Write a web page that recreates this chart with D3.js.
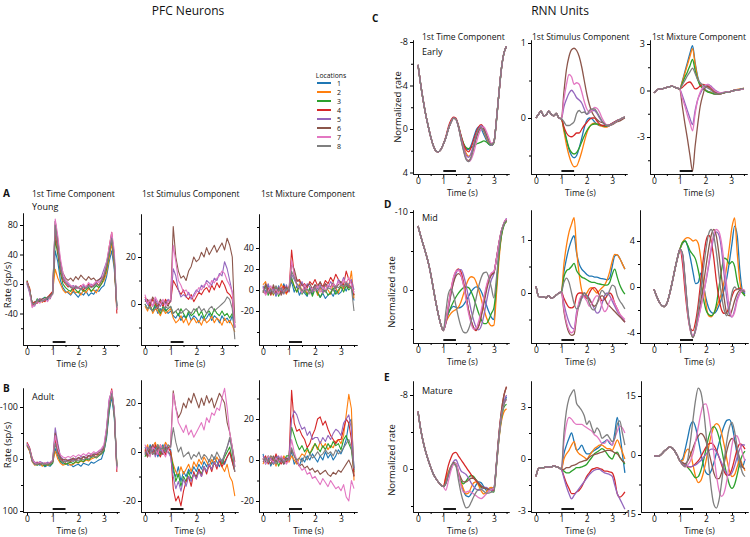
<!DOCTYPE html>
<html><head><meta charset="utf-8">
<script src="https://cdn.jsdelivr.net/npm/d3@7"></script>
<style>
body{margin:0;background:#fff}
svg text{font-family:'Open Sans',sans-serif;fill:#111}
</style>
</head><body>
<svg id="chart" width="750" height="537"></svg>
<script>
// ---------------- DATA ----------------
const timePoints = [0,0.1,0.2,0.3,0.4,0.5,0.6,0.7,0.8,0.9,1.0,1.1,1.2,1.3,1.4,1.5,1.6,1.7,1.8,1.9,2.0,2.1,2.2,2.3,2.4,2.5,2.6,2.7,2.8,2.9,3.0,3.1,3.2,3.3,3.4,3.5];
const locations = ["1","2","3","4","5","6","7","8"];
const locationColors = ["#1f77b4","#ff7f0e","#2ca02c","#d62728","#9467bd","#8c564b","#e377c2","#7f7f7f"];
const componentTitles = ["1st Time Component","1st Stimulus Component","1st Mixture Component"];
const pfcStages = ["Young","Adult"];
const rnnStages = ["Early","Mid","Mature"];
const xTickValues = [0,1,2,3];
const xMinorTicks = [0.5,1.5,2.5,3.5];
const stimulusWindow = [1,1.5];

// PFC, young, rate (sp/s), one row per location
const pfcYoungTime = [
[2,-8,-28,-25,-22,-24,-20,-18,-22,-15,-12,45,30,5,-5,-10,-12,-15,-10,-14,-18,-12,-15,-10,-16,-12,-14,-8,-10,-5,-2,10,30,45,20,-30],
[0,-5,-30,-26,-24,-22,-25,-20,-18,-20,-10,20,8,0,-8,-12,-10,-14,-8,-12,-10,-15,-8,-12,-6,-10,-8,-12,-5,0,5,15,35,55,25,-35],
[5,-10,-25,-28,-20,-24,-22,-18,-20,-16,-14,60,40,15,0,-5,-8,-10,-4,-8,-12,-6,-10,-8,-4,-10,-6,-2,-5,0,8,20,40,60,30,-30],
[4,-6,-27,-24,-26,-20,-22,-24,-18,-14,-10,70,45,20,5,0,-4,-2,-8,-4,-6,-2,-8,-4,0,-4,-2,2,-2,4,10,25,50,70,35,-40],
[0,-12,-28,-30,-22,-20,-24,-20,-18,-20,-12,85,55,25,10,5,0,-5,-2,-6,-4,-8,-2,-6,-3,0,-4,2,5,10,20,30,45,65,40,-30],
[3,-8,-26,-28,-25,-22,-20,-22,-18,-16,-12,85,60,30,15,8,5,8,4,10,6,12,8,5,10,6,8,4,6,8,12,25,45,60,35,-35],
[2,-10,-32,-28,-24,-26,-22,-20,-24,-18,-14,88,65,35,15,5,2,-2,-5,-2,-6,-3,0,-4,2,-2,0,4,2,6,15,30,50,70,45,-35],
[1,-7,-26,-27,-23,-21,-23,-21,-19,-17,-13,80,50,22,8,2,-2,-4,-6,-3,-5,-7,-4,-6,-2,-5,-3,0,-2,4,12,25,42,62,32,-32]];
const pfcYoungStimulus = [
[2,0,-2,-3,-1,-4,-2,-3,-2,-4,-3,-5,-6,-4,-7,-5,-6,-4,-7,-5,-6,-8,-5,-7,-6,-4,-7,-5,-6,-8,-5,-7,-6,-8,-5,-10],
[-1,-3,0,-4,-2,-3,-5,-2,-4,-3,-2,-6,-8,-7,-5,-8,-6,-9,-7,-6,-8,-7,-9,-6,-8,-7,-5,-8,-6,-7,-9,-6,-8,-7,-9,-12],
[0,-2,-1,-3,0,-2,-4,-1,-3,-2,-1,-4,-3,-5,-2,-4,-6,-3,-5,-4,-2,-5,-3,-6,-4,-3,-5,-2,-4,-5,-3,-5,-4,-6,-4,-8],
[3,1,-1,2,0,-2,1,-1,2,0,1,10,8,6,4,6,3,2,4,1,3,5,4,6,7,5,8,6,9,7,10,8,5,4,2,-10],
[2,0,1,-1,2,0,-1,1,0,2,1,15,12,6,3,4,3,5,2,4,6,5,8,7,10,9,8,11,10,13,12,18,15,10,5,-10],
[1,2,0,3,1,-1,2,0,1,-1,2,33,20,14,11,12,10,14,16,20,18,19,22,20,24,21,23,25,22,24,26,23,28,25,20,-8],
[4,0,2,-1,3,1,0,2,-1,1,2,25,18,10,8,5,6,4,3,3,5,7,6,8,9,7,10,9,11,12,14,13,10,8,5,-10],
[0,-2,-1,-3,-2,-1,-3,-2,-1,-2,-1,-4,-3,-2,-4,-3,-2,-3,-4,-2,-3,-1,-3,-2,-4,-2,-1,-3,-2,-1,0,1,3,2,-2,-15]];
const pfcYoungMixture = [
[3,-2,5,-4,2,-6,4,-3,6,-1,2,8,-2,4,-5,0,-3,-6,2,-4,5,-2,-7,-3,-8,-5,-2,-6,0,-4,-2,3,-1,5,2,-10],
[5,8,-3,2,-5,3,-2,6,0,-4,3,10,4,-2,6,-1,3,-4,1,-2,4,-5,2,-3,5,0,-4,6,2,-3,5,1,8,3,18,-8],
[-2,4,-5,1,-4,3,-6,0,-3,2,-1,12,3,-2,4,-4,0,-5,2,-6,1,-3,-7,-2,0,-5,-3,2,-4,0,3,-2,4,0,3,-5],
[0,-4,2,-5,3,-3,1,-2,4,-3,0,38,15,8,10,4,6,2,8,5,10,4,7,3,9,6,12,8,15,10,7,5,18,10,8,-5],
[4,-3,6,-2,1,-5,3,0,-4,5,-2,15,10,5,2,8,0,6,3,-2,4,1,5,-3,6,2,8,4,1,10,5,12,4,6,10,0],
[-3,6,0,-4,5,-2,2,-5,1,3,-1,25,20,10,8,5,2,4,6,1,5,3,8,2,6,4,3,7,2,5,8,3,6,2,4,-2],
[2,-5,-1,4,-3,1,-4,3,-2,0,1,28,15,5,2,-3,5,0,-4,2,-1,4,-2,3,0,5,2,6,3,8,4,10,6,12,5,-3],
[-1,2,-3,0,-2,4,-1,2,-3,1,0,18,12,6,3,0,-2,1,-3,0,2,-1,3,0,-2,2,1,-1,4,2,5,3,7,4,2,-20]];

// PFC, adult
const pfcAdultTime = [
[-28,-20,0,10,8,12,10,15,12,14,8,-20,-5,5,10,8,12,10,15,12,10,14,8,10,12,6,8,5,2,0,-15,-40,-90,-120,-80,15],
[-25,-15,5,12,10,8,14,10,12,10,6,-15,0,8,12,10,8,12,10,6,8,4,6,2,4,0,-2,-5,-8,-10,-20,-50,-100,-125,-90,10],
[-30,-18,2,10,12,9,11,13,10,12,8,-35,-10,5,6,10,8,6,9,5,7,3,5,0,2,-3,-5,-2,-6,-10,-15,-45,-95,-130,-85,12],
[-32,-22,-2,8,6,10,8,10,7,9,5,-40,-15,0,4,6,2,5,0,3,-2,1,-4,-1,-5,-8,-6,-10,-8,-12,-20,-55,-110,-135,-90,25],
[-30,-20,0,6,8,5,7,9,6,8,2,-60,-30,-5,0,4,2,0,3,-2,0,-5,-3,-7,-5,-10,-8,-12,-15,-18,-25,-60,-115,-130,-95,15],
[-27,-17,3,9,11,7,9,8,10,7,4,-50,-25,-2,2,0,4,1,-2,2,-3,0,-5,-2,-7,-4,-10,-8,-12,-15,-22,-50,-105,-128,-92,18],
[-29,-19,1,7,9,6,10,7,9,6,3,-45,-20,-8,-4,-2,-5,-3,-7,-4,-8,-6,-10,-7,-12,-9,-14,-11,-16,-20,-28,-60,-112,-132,-95,20],
[-26,-18,4,11,9,10,8,11,9,10,5,-30,-8,2,6,4,6,3,5,2,4,0,2,-2,0,-4,-6,-3,-8,-12,-18,-48,-100,-126,-88,14]];
const pfcAdultStimulus = [
[2,-1,3,0,2,-2,1,3,0,2,1,-8,-10,-6,-12,-8,-10,-7,-9,-6,-8,-5,-7,-4,-6,-3,-5,-2,-4,-6,-3,-5,-2,0,-4,-8],
[0,3,-1,2,4,0,3,1,4,2,0,-5,-8,-10,-6,-9,-7,-5,-8,-4,-6,-3,-5,-2,-4,-6,-3,-5,-2,-4,-6,-8,-5,-10,-12,-18],
[-2,1,-1,2,0,3,-1,2,1,0,-1,-6,-12,-9,-14,-10,-12,-8,-11,-9,-10,-7,-9,-6,-8,-5,-7,-4,-6,-3,-5,-2,0,2,-3,-6],
[1,-2,2,-1,3,0,-2,1,-1,2,0,-15,-20,-18,-22,-16,-12,-10,-14,-8,-11,-7,-10,-6,-9,-5,-8,-4,-7,-3,-6,-4,-2,0,-4,-8],
[-1,2,0,3,-2,1,2,-1,3,0,-2,-10,-15,-12,-16,-11,-14,-10,-12,-9,-11,-8,-10,-6,-8,-5,-7,-4,-6,-3,-4,-1,2,5,2,-6],
[0,-2,1,3,-1,2,0,-1,2,1,3,25,18,14,16,20,18,22,20,24,21,18,22,19,23,20,22,18,21,24,22,20,12,8,2,-4],
[3,0,-2,2,1,-1,3,0,-2,1,2,24,18,12,10,8,11,7,9,6,8,10,12,9,14,12,16,15,18,17,22,26,18,8,2,-6],
[-1,1,2,-1,0,3,1,2,0,3,2,10,4,0,2,-2,-1,0,-3,-1,-2,0,-3,-1,-2,-4,-1,-3,0,-2,-4,-1,2,6,0,-8]];
const pfcAdultMixture = [
[3,-2,1,-3,0,2,-1,1,-2,0,1,4,-2,0,-3,1,-1,2,0,3,1,-1,2,0,4,1,3,0,2,5,3,6,10,18,20,-5],
[-2,1,-1,2,0,-3,1,-1,2,0,-1,2,0,-2,1,3,2,5,3,6,8,5,9,6,8,5,7,6,9,10,8,12,22,32,25,-10],
[1,-1,2,0,-2,1,-3,0,-1,2,2,16,12,8,5,7,4,6,3,5,8,6,4,7,5,8,6,9,7,8,5,10,12,8,5,-6],
[0,2,-2,1,-1,3,0,-2,1,-1,0,34,18,14,15,12,10,6,8,12,15,20,21,17,19,15,12,10,8,10,10,15,20,18,10,-8],
[2,0,-1,1,-2,0,2,-1,0,1,1,20,24,22,18,15,16,12,14,10,11,11,8,11,9,12,10,13,15,14,12,18,20,22,15,-4],
[-1,1,0,-2,2,-1,1,0,-2,1,0,5,2,-1,-3,-2,-4,-3,-5,-4,-6,-5,-7,-6,-5,-7,-8,-6,-7,-5,-6,-4,-2,0,-3,-8],
[1,-2,2,0,-1,1,-1,2,0,-2,0,10,4,0,-3,-5,-4,-7,-6,-9,-8,-10,-12,-9,-11,-13,-10,-12,-14,-13,-15,-12,-18,-20,-10,-14],
[0,1,-1,2,1,-2,0,1,-1,0,0,6,2,0,1,-1,2,0,3,1,2,4,2,3,5,3,4,2,5,3,4,6,8,10,6,-4]];

// RNN units: shared pre-stimulus trace (t = 0..1.0) + per-location traces (t = 1.1..3.5)
const rnnEarlyTimePre = [-5.9,-4.2,-2.7,-1.4,-0.3,0.7,1.5,2.0,2.1,1.9,1.4];
const rnnEarlyTimePost = [
[0.8,0.0,-0.6,-1.0,-0.9,-0.2,0.7,1.4,1.8,1.9,1.5,0.8,0.1,-0.2,0.0,0.5,1.0,1.4,1.5,1.2,-0.8,-3.3,-5.6,-7.0,-7.6],
[0.8,0.0,-0.6,-1.0,-0.9,-0.2,0.8,1.6,2.2,2.5,2.3,1.6,0.7,0.0,-0.2,0.2,0.8,1.3,1.5,1.2,-0.8,-3.3,-5.6,-7.0,-7.6],
[0.8,0.0,-0.6,-1.0,-0.9,-0.3,0.6,1.3,1.7,1.8,1.7,1.6,1.4,1.3,1.2,1.1,1.2,1.4,1.5,1.3,-0.7,-3.3,-5.6,-7.0,-7.6],
[0.7,-0.2,-0.8,-1.1,-1.0,-0.3,0.6,1.4,1.9,2.1,1.7,1.0,0.3,-0.2,-0.4,-0.1,0.5,1.1,1.4,1.2,-0.8,-3.3,-5.6,-7.0,-7.6],
[0.8,0.0,-0.6,-1.0,-0.9,-0.2,0.8,1.7,2.4,2.6,2.2,1.4,0.6,0.0,-0.3,0.0,0.6,1.2,1.5,1.2,-0.8,-3.3,-5.6,-7.0,-7.6],
[0.8,0.0,-0.6,-1.0,-0.9,-0.2,0.9,1.9,2.7,2.9,2.6,1.8,0.9,0.2,-0.1,0.0,0.5,1.1,1.4,1.2,-0.8,-3.3,-5.6,-7.0,-7.6],
[0.8,0.0,-0.6,-1.0,-0.9,-0.2,0.9,1.9,2.7,3.0,2.8,2.2,1.3,0.5,0.0,-0.2,0.2,0.8,1.3,1.2,-0.8,-3.3,-5.6,-7.0,-7.6],
[0.8,0.0,-0.6,-1.0,-0.9,-0.2,1.0,2.0,2.8,3.0,2.6,1.6,0.6,0.0,-0.1,0.2,0.7,1.2,1.4,1.2,-0.8,-3.3,-5.6,-7.0,-7.6]];
const rnnEarlyStimulusPre = [0.0,0.05,0.09,0.03,0.04,0.09,0.05,0.03,0.06,0.0,-0.01];
const rnnEarlyStimulusPost = [
[-0.15,-0.3,-0.42,-0.5,-0.53,-0.5,-0.4,-0.27,-0.13,-0.03,0.0,-0.01,-0.05,-0.08,-0.1,-0.1,-0.1,-0.1,-0.09,-0.07,-0.05,-0.03,-0.02,0.0,0.01],
[-0.18,-0.36,-0.5,-0.6,-0.65,-0.64,-0.56,-0.45,-0.32,-0.2,-0.12,-0.08,-0.07,-0.08,-0.1,-0.11,-0.12,-0.12,-0.1,-0.08,-0.06,-0.04,-0.02,0.0,0.01],
[-0.14,-0.28,-0.4,-0.46,-0.48,-0.46,-0.4,-0.32,-0.24,-0.17,-0.12,-0.09,-0.08,-0.08,-0.09,-0.1,-0.11,-0.11,-0.1,-0.08,-0.06,-0.04,-0.02,0.0,0.01],
[-0.12,-0.2,-0.24,-0.25,-0.23,-0.2,-0.2,-0.15,-0.1,-0.06,-0.02,0.0,0.0,-0.04,-0.08,-0.1,-0.1,-0.1,-0.09,-0.07,-0.05,-0.03,-0.02,0.0,0.01],
[0.15,0.25,0.33,0.37,0.33,0.27,0.24,0.2,0.12,0.05,0.07,0.1,0.1,0.06,0.0,-0.05,-0.08,-0.1,-0.1,-0.08,-0.06,-0.04,-0.02,0.0,0.01],
[0.35,0.65,0.82,0.91,0.93,0.9,0.82,0.68,0.5,0.32,0.18,0.08,0.02,-0.02,-0.05,-0.06,-0.08,-0.1,-0.1,-0.09,-0.07,-0.05,-0.04,-0.02,0.0],
[0.25,0.45,0.58,0.55,0.45,0.47,0.45,0.35,0.22,0.12,0.08,0.1,0.14,0.13,0.08,0.0,-0.06,-0.1,-0.1,-0.08,-0.06,-0.04,-0.02,0.0,0.01],
[-0.05,-0.1,-0.1,-0.08,-0.05,0.06,0.1,0.07,0.08,0.05,0.1,0.12,0.12,0.08,0.02,-0.04,-0.08,-0.1,-0.1,-0.08,-0.06,-0.04,-0.02,0.0,0.01]];
const rnnEarlyMixturePre = [-0.15,0.0,0.1,0.1,0.15,0.2,0.25,0.28,0.22,0.15,0.1];
const rnnEarlyMixturePost = [
[0.6,1.2,1.8,2.4,2.9,1.8,0.9,0.4,0.2,0.05,-0.05,-0.1,-0.2,-0.25,-0.25,-0.2,-0.15,-0.12,-0.1,-0.05,0.0,0.05,0.05,0.1,0.12],
[0.55,1.1,1.65,2.2,2.7,1.7,0.8,0.35,0.15,0.02,-0.08,-0.12,-0.2,-0.22,-0.22,-0.2,-0.15,-0.12,-0.1,-0.05,0.0,0.05,0.08,0.1,0.15],
[0.45,0.85,1.2,1.6,2.0,1.3,0.7,0.3,0.15,0.0,-0.1,-0.15,-0.2,-0.22,-0.22,-0.2,-0.15,-0.1,-0.08,-0.05,0.0,0.02,0.05,0.08,0.1],
[0.2,0.35,0.5,0.55,0.35,0.1,0.15,0.3,0.4,0.35,0.25,0.1,-0.05,-0.15,-0.2,-0.2,-0.15,-0.1,-0.08,-0.05,0.0,0.02,0.05,0.1,0.12],
[-0.3,-0.8,-1.3,-1.8,-2.2,-1.3,-0.6,-0.2,0.1,0.3,0.4,0.3,0.15,0.0,-0.1,-0.15,-0.12,-0.1,-0.08,-0.05,0.0,0.02,0.05,0.08,0.1],
[-1.0,-2.1,-3.1,-4.2,-5.2,-3.6,-2.2,-1.0,-0.3,0.2,0.3,0.2,0.05,-0.1,-0.2,-0.2,-0.15,-0.1,-0.08,-0.05,0.0,0.02,0.05,0.08,0.1],
[-0.5,-1.0,-1.6,-2.1,-2.6,-1.5,-0.6,-0.1,0.2,0.35,0.4,0.25,0.1,-0.05,-0.12,-0.15,-0.12,-0.1,-0.08,-0.05,0.0,0.02,0.05,0.08,0.1],
[0.35,0.65,0.95,1.2,1.45,1.1,0.7,0.5,0.35,0.25,0.15,0.05,-0.1,-0.2,-0.22,-0.2,-0.15,-0.12,-0.1,-0.05,0.0,0.02,0.05,0.1,0.15]];

const rnnMidTimePre = [-8.2,-7.0,-5.9,-4.8,-3.6,-2.1,-0.3,1.5,3.1,4.4,5.2];
const rnnMidTimePost = [
[4.0,3.0,2.4,2.1,2.2,2.3,2.2,1.9,1.4,0.8,0.2,-0.2,-0.4,-0.3,0.2,1.0,1.9,2.8,3.5,3.8,-0.5,-4.5,-7.2,-8.5,-9.0],
[4.2,3.5,3.0,2.7,2.5,2.2,1.5,0.5,-0.6,-1.4,-1.7,-1.6,-1.0,0.0,1.2,2.4,3.5,4.2,4.6,4.5,0.5,-3.8,-7.0,-8.4,-8.8],
[4.0,3.0,2.2,1.5,0.9,0.4,0.0,-0.3,-0.4,-0.3,0.2,1.0,2.0,3.0,3.8,4.3,4.3,3.8,3.0,2.3,-0.5,-4.5,-7.0,-8.3,-8.8],
[4.0,2.0,0.0,-1.5,-2.4,-2.7,-2.3,-1.0,0.8,2.6,4.0,4.9,5.2,4.6,3.2,1.5,-0.2,-1.4,-2.0,-2.3,-4.0,-6.0,-7.6,-8.6,-9.1],
[4.3,2.5,0.6,-1.0,-2.1,-2.6,-2.6,-1.9,-0.6,1.0,2.6,3.9,4.8,5.1,4.6,3.3,1.6,0.0,-1.3,-2.1,-4.0,-6.0,-7.6,-8.6,-9.2],
[4.2,2.3,0.5,-0.9,-1.8,-2.1,-1.8,-0.7,0.9,2.6,3.9,4.8,5.1,4.6,3.4,1.8,0.2,-1.1,-1.9,-2.2,-4.0,-6.0,-7.6,-8.5,-9.0],
[4.0,2.0,0.0,-1.6,-2.4,-2.5,-1.9,-0.6,1.2,3.0,4.3,5.0,4.9,4.0,2.6,1.0,-0.5,-1.6,-2.2,-2.4,-4.0,-6.0,-7.6,-8.6,-9.1],
[2.8,0.5,-0.1,0.6,2.0,3.5,4.7,5.4,5.5,5.0,4.0,2.6,1.0,-0.5,-1.6,-2.2,-2.3,-1.6,-0.3,1.0,-1.5,-5.0,-7.4,-8.5,-8.9]];
const rnnMidStimulusPre = [0.13,-0.06,-0.08,-0.07,-0.09,-0.05,-0.1,-0.08,-0.04,0.0,0.02];
const rnnMidStimulusPost = [
[0.4,0.65,0.85,1.0,1.08,0.75,0.55,0.45,0.4,0.35,0.32,0.32,0.3,0.3,0.28,0.27,0.26,0.25,0.28,0.5,0.7,0.72,0.65,0.55,0.45],
[0.55,0.9,1.15,1.3,1.42,0.8,0.35,0.05,-0.05,0.0,0.08,0.1,0.05,0.0,0.05,0.1,0.15,0.25,0.4,0.6,0.73,0.72,0.65,0.55,0.45],
[0.3,0.42,0.45,0.5,0.56,0.42,0.35,0.3,0.28,0.25,0.22,0.2,0.2,0.18,0.17,0.16,0.15,0.15,0.2,0.35,0.45,0.3,0.15,0.05,-0.02],
[-0.1,-0.2,-0.27,-0.28,-0.25,-0.05,0.0,0.0,-0.05,-0.1,0.0,0.08,0.1,0.05,-0.05,-0.15,-0.12,-0.05,0.0,-0.05,-0.2,-0.3,-0.4,-0.48,-0.55],
[-0.2,-0.4,-0.55,-0.65,-0.68,-0.35,-0.2,-0.1,-0.05,-0.05,-0.1,-0.2,-0.3,-0.38,-0.35,-0.2,-0.05,0.0,-0.05,-0.15,-0.25,-0.35,-0.42,-0.48,-0.55],
[-0.35,-0.6,-0.75,-0.8,-0.78,-0.45,-0.2,-0.05,0.0,-0.05,-0.12,-0.2,-0.25,-0.2,-0.1,-0.05,-0.1,-0.2,-0.25,-0.3,-0.35,-0.4,-0.45,-0.5,-0.55],
[-0.3,-0.55,-0.7,-0.75,-0.7,-0.4,-0.15,-0.05,-0.08,-0.15,-0.25,-0.2,-0.1,-0.05,-0.1,-0.25,-0.35,-0.3,-0.15,-0.1,-0.2,-0.3,-0.4,-0.45,-0.5],
[0.2,0.28,0.2,0.0,-0.2,-0.3,-0.25,-0.1,0.0,-0.05,-0.2,-0.3,-0.32,-0.2,-0.05,0.05,0.0,-0.05,0.05,0.15,0.12,-0.05,-0.15,-0.22,-0.3]];
const rnnMidMixturePre = [-0.2,-0.8,-1.3,-1.6,-1.7,-1.4,-0.6,0.4,1.5,2.5,3.3];
const rnnMidMixturePost = [
[3.8,4.0,3.5,2.5,1.3,0.3,0.4,1.2,0.2,-1.0,-1.8,-2.2,-2.3,-2.1,-1.6,-1.0,-0.2,0.8,2.2,3.8,5.3,4.5,1.5,-0.3,-0.6],
[3.9,4.2,4.3,4.2,4.0,4.1,3.8,2.5,0.5,-1.5,-2.5,-2.6,-2.3,-1.8,-1.2,-0.5,0.5,1.8,3.5,5.2,6.0,3.0,0.5,-0.5,-0.7],
[3.9,4.0,3.6,3.1,2.8,2.4,1.5,0.3,-1.0,-2.0,-2.4,-2.5,-2.3,-1.5,0.0,1.5,2.5,2.4,2.0,2.2,1.8,0.5,-0.3,-0.5,-0.8],
[2.0,-0.5,-2.5,-3.6,-3.8,-3.0,-1.5,0.5,2.5,4.0,4.5,4.0,2.5,0.5,-1.0,-2.0,-2.3,-2.2,-1.6,-0.8,-0.3,-0.2,-0.1,-0.3,-0.4],
[2.8,0.5,-2.0,-3.6,-4.3,-3.8,-2.8,-1.7,-0.6,0.5,1.8,3.2,4.3,4.8,4.5,3.2,1.0,-1.0,-2.3,-2.6,-2.0,-1.0,-0.5,-0.3,-0.5],
[2.8,0.4,-2.2,-3.8,-4.4,-3.7,-2.5,-1.2,0.2,1.8,3.3,4.5,5.0,4.4,2.8,0.8,-1.0,-2.3,-2.5,-2.0,-1.2,-0.6,-0.3,-0.3,-0.4],
[2.6,0.2,-2.3,-3.8,-4.2,-3.7,-2.8,-1.8,-0.7,0.6,2.0,3.5,4.6,5.0,4.8,3.8,2.0,0.0,-1.8,-2.6,-2.2,-1.2,-0.6,-0.2,-0.3],
[2.9,0.6,-2.0,-3.7,-4.4,-3.6,-2.0,-0.3,1.6,3.3,4.6,5.0,4.4,3.0,1.0,-0.8,-2.0,-2.5,-1.8,-0.5,0.0,-0.2,-0.2,-0.3,-0.4]];

const rnnMatureTimePre = [-6.2,-4.4,-3.0,-1.9,-1.0,-0.2,0.5,1.0,1.4,1.7,1.9];
const rnnMatureTimePost = [
[1.4,0.6,-0.1,-0.6,-0.4,0.6,1.6,2.4,2.9,3.0,2.7,2.2,1.7,1.4,1.5,1.9,2.3,2.4,2.1,2.0,-0.5,-3.5,-5.8,-7.2,-7.8],
[1.0,0.3,-0.3,-0.6,-0.4,0.5,1.4,2.2,2.7,2.6,2.0,1.5,1.4,1.8,2.4,2.7,2.5,2.1,2.0,2.2,-0.3,-3.2,-5.2,-6.2,-6.5],
[1.6,0.7,0.0,-0.5,-0.4,0.5,1.3,1.6,1.3,0.9,0.7,0.8,1.2,1.6,2.0,2.1,2.1,2.2,2.4,2.5,-0.3,-3.3,-5.5,-6.7,-7.0],
[0.8,-0.4,-1.2,-1.7,-1.8,-1.4,-1.0,-0.6,-0.2,0.2,0.6,1.0,1.3,1.6,1.9,2.0,2.1,2.2,2.3,2.3,-0.6,-3.8,-6.3,-8.0,-8.9],
[1.6,0.7,-0.1,-0.8,-1.0,-0.4,0.2,0.4,0.6,1.0,1.5,1.9,2.2,2.3,2.2,2.0,2.0,2.2,2.3,2.2,-0.5,-3.6,-5.9,-7.3,-8.0],
[1.5,0.6,-0.2,-0.7,-0.6,0.3,1.0,1.4,1.4,1.2,1.0,1.0,1.2,1.5,1.8,2.0,2.1,2.2,2.2,2.1,-0.6,-3.8,-6.3,-8.0,-8.9],
[2.3,1.3,0.2,-0.5,-0.6,0.4,1.8,2.5,2.5,2.4,2.5,2.7,2.9,3.1,3.2,3.0,2.7,2.4,2.2,2.1,-0.4,-3.4,-5.8,-7.0,-7.5],
[1.5,0.5,-0.3,-0.6,-0.3,1.2,2.6,3.6,4.2,4.1,3.6,3.0,2.5,2.2,2.2,2.4,2.6,2.6,2.5,2.4,-0.4,-3.4,-5.7,-7.0,-7.6]];
const rnnMatureStimulusPre = [-1.0,-0.55,-0.5,-0.5,-0.45,-0.45,-0.45,-0.4,-0.45,-0.5,-0.6];
const rnnMatureStimulusPost = [
[0.3,0.8,1.2,1.5,1.0,0.5,0.6,0.8,0.5,0.3,0.3,0.4,0.5,0.6,0.7,0.9,1.0,1.1,0.9,0.8,1.5,2.4,1.5,0.3,-0.8],
[0.0,0.3,0.5,0.8,1.0,0.5,0.3,0.2,0.1,0.0,0.2,0.4,0.6,0.7,0.8,0.8,0.7,0.6,0.6,0.5,0.8,1.1,0.8,0.4,0.0],
[-0.7,-0.8,-0.8,-0.7,-0.6,-0.5,-0.5,-0.45,-0.4,-0.3,-0.1,0.1,0.3,0.4,0.5,0.6,0.5,0.3,0.1,0.0,0.3,0.4,0.1,-0.1,-0.3],
[-1.0,-1.4,-1.7,-2.0,-2.0,-1.9,-1.8,-1.6,-1.3,-1.0,-0.8,-0.6,-0.55,-0.5,-0.55,-0.6,-0.7,-0.7,-0.75,-0.8,-1.2,-2.0,-2.2,-2.1,-1.9],
[-1.1,-1.6,-2.0,-2.3,-2.1,-1.9,-1.7,-1.5,-1.3,-1.1,-0.9,-0.75,-0.65,-0.6,-0.6,-0.7,-0.8,-0.85,-0.9,-1.0,-1.5,-2.0,-2.3,-2.6,-2.9],
[-0.6,-0.5,-0.5,-0.4,-0.35,-0.3,-0.2,-0.15,-0.1,-0.05,0.1,0.2,0.25,0.3,0.35,0.4,0.45,0.5,0.5,0.45,0.35,0.3,0.1,-0.1,-0.2],
[1.0,2.0,2.4,2.3,2.1,2.0,2.0,2.0,1.9,1.8,1.7,1.6,1.4,1.3,1.1,0.9,0.9,1.1,1.0,0.8,1.2,1.6,1.9,1.8,1.5],
[1.5,2.8,3.5,3.8,4.0,3.2,3.0,2.8,2.5,2.0,2.2,1.8,1.5,1.8,1.6,1.2,1.3,1.4,1.2,1.0,1.2,2.0,2.2,1.5,0.8]];
const rnnMatureMixturePre = [-0.3,-0.3,-0.2,0.3,1.0,1.6,2.0,1.8,1.0,-0.2,-1.5];
const rnnMatureMixturePost = [
[-1.0,1.5,4.5,7.5,8.5,7.0,4.0,0.5,-2.5,-4.5,-5.0,-4.0,-2.0,0.5,3.0,5.5,7.5,8.8,9.0,7.5,4.0,0.0,-3.0,-3.0,-1.0],
[-1.5,0.5,1.5,0.5,-2.5,-5.5,-7.0,-6.5,-4.5,-1.5,2.0,5.0,7.2,8.0,7.5,5.5,2.5,-1.0,-4.0,-5.5,-5.0,-3.0,-1.0,-2.5,-4.0],
[-2.0,-2.5,-3.2,-4.0,-5.0,-5.8,-5.5,-4.0,-1.5,1.5,4.5,6.5,7.2,6.5,4.5,1.5,-2.0,-5.0,-7.5,-8.5,-7.5,-5.0,-2.0,0.0,1.0],
[-2.5,-2.8,-3.0,-3.0,-2.8,-2.2,-1.5,-0.5,0.8,2.0,2.8,3.0,2.5,1.2,-0.5,-2.5,-4.2,-5.2,-5.0,-3.5,-1.0,1.5,2.8,2.5,1.5],
[-2.0,-2.5,-2.8,-3.0,-2.8,-2.5,-2.0,-1.4,-0.6,0.2,1.0,1.5,1.5,0.8,-0.5,-2.0,-3.5,-4.8,-5.2,-4.5,-2.8,-0.5,1.5,2.6,2.5],
[-2.0,-2.2,-1.5,0.0,1.8,3.5,4.8,5.5,5.0,3.5,1.0,-1.8,-4.5,-6.0,-6.0,-4.5,-2.0,1.0,3.3,4.2,3.5,1.5,-1.0,-3.0,-3.5],
[-2.5,-3.0,-2.5,-1.5,0.5,3.5,7.0,10.5,12.8,13.0,10.5,6.0,0.5,-5.0,-9.0,-10.5,-9.5,-6.5,-2.0,2.5,5.0,4.8,3.0,0.5,-1.5],
[-2.5,-3.0,-1.0,3.5,9.0,14.0,17.0,16.0,12.0,5.5,-2.0,-8.5,-12.5,-13.5,-11.5,-7.0,-1.5,3.5,7.0,8.3,6.0,2.0,-2.0,-4.5,-5.5]];

// ---------------- LAYOUT ----------------
const joinRnn = (pre, post) => post.map(p => pre.concat(p));
const colA = {ax:23, x0:27, pps:25.67, xEnd:119};
const colB = {ax:141, x0:145, pps:25.67, xEnd:238};
const colC = {ax:259, x0:263, pps:26, xEnd:357};
const panels = [
 Object.assign({lines:pfcYoungTime, top:213, bottom:345, v0:0,p0:284, v1:80,p1:225, yTicks:[80,40,0,-40], yMinor:[60,20,-20,-60], rnn:false}, colA),
 Object.assign({lines:pfcYoungStimulus, top:214, bottom:345, v0:0,p0:304, v1:20,p1:257, yTicks:[20,0], yMinor:[30,10,-10], rnn:false}, colB),
 Object.assign({lines:pfcYoungMixture, top:214, bottom:345, v0:0,p0:290, v1:40,p1:248, yTicks:[40,20,0,-20], yMinor:[60,-40], rnn:false}, colC),
 Object.assign({lines:pfcAdultTime, top:388, bottom:512, v0:0,p0:459, v1:-100,p1:407, yTicks:[-100,0,100], yMinor:[-50,50], rnn:false}, colA),
 Object.assign({lines:pfcAdultStimulus, top:380, bottom:512, v0:0,p0:452, v1:20,p1:403, yTicks:[20,0,-20], yMinor:[10,-10], rnn:false}, colB),
 Object.assign({lines:pfcAdultMixture, top:380, bottom:512, v0:0,p0:460, v1:20,p1:419, yTicks:[20,0,-20], yMinor:[30,10,-10], rnn:false}, colC),
 {lines:joinRnn(rnnEarlyTimePre,rnnEarlyTimePost), ax:413,x0:418,pps:25.3,xEnd:509, top:40,bottom:174, v0:0,p0:129,v1:-8,p1:42, yTicks:[-8,-4,0,4], yMinor:[-6,-2,2], rnn:true},
 {lines:joinRnn(rnnEarlyStimulusPre,rnnEarlyStimulusPost), ax:531,x0:536,pps:25.4,xEnd:627, top:40,bottom:174, v0:0,p0:118,v1:1,p1:43, yTicks:[1,0], yMinor:[0.5,-0.5], rnn:true},
 {lines:joinRnn(rnnEarlyMixturePre,rnnEarlyMixturePost), ax:650,x0:654,pps:25.7,xEnd:747, top:40,bottom:174, v0:0,p0:90.5,v1:3,p1:44, yTicks:[3,0,-3], yMinor:[1.5,-1.5,-4.5], rnn:true},
 {lines:joinRnn(rnnMidTimePre,rnnMidTimePost), ax:413,x0:418,pps:25.3,xEnd:509, top:210,bottom:343, v0:0,p0:290,v1:-10,p1:212, yTicks:[-10,0], yMinor:[-5,5], rnn:true},
 {lines:joinRnn(rnnMidStimulusPre,rnnMidStimulusPost), ax:531,x0:536,pps:25.4,xEnd:627, top:210,bottom:343, v0:0,p0:293,v1:1,p1:240, yTicks:[1,0], yMinor:[0.5,-0.5], rnn:true},
 {lines:joinRnn(rnnMidMixturePre,rnnMidMixturePost), ax:640,x0:654,pps:26,xEnd:748, top:210,bottom:343, v0:0,p0:287,v1:4,p1:241, yTicks:[4,0,-4], yMinor:[2,-2], rnn:true},
 {lines:joinRnn(rnnMatureTimePre,rnnMatureTimePost), ax:413,x0:418,pps:25.3,xEnd:509, top:381,bottom:512, v0:0,p0:469,v1:-8,p1:395, yTicks:[-8,0], yMinor:[-4,4], rnn:true},
 {lines:joinRnn(rnnMatureStimulusPre,rnnMatureStimulusPost), ax:531,x0:536,pps:25.4,xEnd:627, top:381,bottom:512, v0:0,p0:459,v1:3,p1:407, yTicks:[3,0,-3], yMinor:[1.5,-1.5], rnn:true},
 {lines:joinRnn(rnnMatureMixturePre,rnnMatureMixturePost), ax:641,x0:654,pps:26,xEnd:748, top:381,bottom:512, v0:0,p0:455,v1:15,p1:396, yTicks:[15,0,-15], yMinor:[7.5,-7.5], rnn:true}
];

const svg = d3.select('#chart');
const FONT = "'Open Sans',sans-serif";

panels.forEach(p => {
  const x = d3.scaleLinear().domain([(p.ax - p.x0)/p.pps, (p.xEnd - p.x0)/p.pps]).range([p.ax, p.xEnd]);
  const k = (p.p1 - p.p0)/(p.v1 - p.v0);
  const inv = py => p.v0 + (py - p.p0)/k;
  const y = d3.scaleLinear().domain([inv(p.bottom), inv(p.top)]).range([p.bottom, p.top]);
  const g = svg.append('g');

  const line = d3.line().x((d,i) => x(timePoints[i])).y(d => y(d))
    .curve(p.rnn ? d3.curveMonotoneX : d3.curveLinear);
  g.selectAll('path.trace').data(p.lines).join('path')
    .attr('class','trace').attr('d', line).attr('fill','none')
    .attr('stroke', (d,i) => locationColors[i])
    .attr('stroke-width', p.rnn ? 1.3 : 1.1).attr('stroke-linejoin','round');

  // y axis
  const ya = g.append('g').attr('transform', `translate(${p.ax},0)`)
    .call(d3.axisLeft(y).tickValues(p.yTicks).tickSize(3).tickSizeOuter(0).tickPadding(2).tickFormat(d => String(d)));
  ya.selectAll('.tick text').attr('font-size', 9);
  g.append('g').attr('transform', `translate(${p.ax},0)`)
    .call(d3.axisLeft(y).tickValues(p.yMinor.filter(v => y(v) >= p.top && y(v) <= p.bottom)).tickSize(2).tickSizeOuter(0).tickFormat(''));
  // x axis
  const xa = g.append('g').attr('transform', `translate(0,${p.bottom})`)
    .call(d3.axisBottom(x).tickValues(xTickValues).tickSize(3).tickSizeOuter(0).tickPadding(1).tickFormat(d => String(d)));
  xa.selectAll('.tick text').attr('font-size', 8.5);
  g.append('g').attr('transform', `translate(0,${p.bottom})`)
    .call(d3.axisBottom(x).tickValues(xMinorTicks.filter(v => x(v) <= p.xEnd)).tickSize(2).tickSizeOuter(0).tickFormat(''));
  g.selectAll('.tick text').attr('font-family', FONT).attr('fill','#111');
  g.selectAll('.domain').attr('stroke','#111');

  // stimulus bar
  g.append('line').attr('x1', x(stimulusWindow[0])).attr('x2', x(stimulusWindow[1]))
    .attr('y1', p.bottom - 3).attr('y2', p.bottom - 3).attr('stroke','#000').attr('stroke-width',1.8);

  g.append('text').attr('x', x(1.75)).attr('y', p.bottom + 21.8).attr('text-anchor','middle')
    .attr('font-size', 8.5).text('Time (s)');
});

// ---------------- TEXT ----------------
const t = (xp, yp, s, size, opts={}) => {
  const el = svg.append('text').attr('x', xp).attr('y', yp).attr('font-size', size).text(s);
  if (opts.anchor) el.attr('text-anchor', opts.anchor);
  if (opts.bold) el.attr('font-weight', 'bold');
  if (opts.rotate) el.attr('transform', `rotate(-90,${xp},${yp})`);
  return el;
};
t(188, 15, 'PFC Neurons', 12, {anchor:'middle'});
t(560, 15, 'RNN Units', 12, {anchor:'middle'});

// panel letters
t(3, 197, 'A', 10, {bold:true});
t(3, 392, 'B', 10, {bold:true});
t(372, 22, 'C', 10, {bold:true});
t(384, 208, 'D', 10, {bold:true});
t(384, 381, 'E', 10, {bold:true});

// component titles
const TS = 8.5;
t(32, 197, componentTitles[0], TS);
t(142, 197, componentTitles[1], TS);
t(261, 197, componentTitles[2], TS);
t(422, 40, componentTitles[0], TS);
t(532, 40, componentTitles[1], TS);
t(652, 40, componentTitles[2], TS);

// stage labels
t(32, 210, pfcStages[0], 9);
t(32, 400, pfcStages[1], 9);
t(422, 55, rnnStages[0], 9);
t(422, 221, rnnStages[1], 9);
t(422, 394, rnnStages[2], 9);

// y labels
t(11, 285, 'Rate (sp/s)', 9.5, {anchor:'middle', rotate:true});
t(11, 445, 'Rate (sp/s)', 9.5, {anchor:'middle', rotate:true});
t(401, 107, 'Normalized rate', 9.5, {anchor:'middle', rotate:true});
t(395, 292, 'Normalized rate', 9.5, {anchor:'middle', rotate:true});
t(395, 460, 'Normalized rate', 9.5, {anchor:'middle', rotate:true});

// legend
t(331, 78, 'Locations', 6.8, {anchor:'middle'});
const leg = svg.append('g');
locations.forEach((name, i) => {
  const yy = 83 + 9 * i;
  leg.append('line').attr('x1', 317).attr('x2', 331).attr('y1', yy).attr('y2', yy)
    .attr('stroke', locationColors[i]).attr('stroke-width', 2);
  leg.append('text').attr('x', 337).attr('y', yy + 2.5).attr('font-size', 7).text(name);
});
</script>
</body></html>
